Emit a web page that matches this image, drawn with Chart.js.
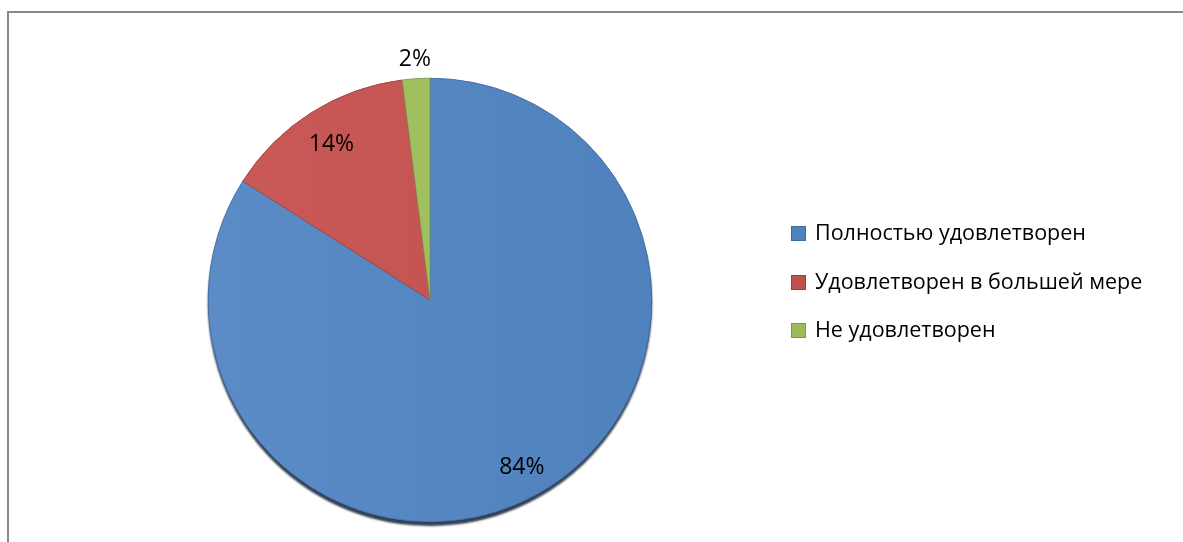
<!DOCTYPE html>
<html>
<head>
<meta charset="utf-8">
<script src="https://cdn.jsdelivr.net/npm/chart.js@4/dist/chart.umd.min.js"></script>
<style>
  body { margin: 0; background: #fff; width: 1183px; height: 542px; overflow: hidden; position: relative; font-family: "Open Sans", sans-serif; }
  #frame { position: absolute; left: 7px; top: 11px; width: 1200px; height: 560px; border-left: 2px solid #888; border-top: 2px solid #888; }
  #pieChart { position: absolute; left: 0; top: 0; }
  #legend { position: absolute; left: 791px; top: 217px; }
  .item { height: 48.5px; display: flex; align-items: flex-start; font-size: 21.5px; color: #000; white-space: nowrap; }
  .box { width: 13px; height: 13px; margin-top: 9px; margin-right: 9px; border: 1px solid; flex: none; }
</style>
</head>
<body>
<div id="frame"></div>
<canvas id="pieChart" width="1183" height="542"></canvas>
<div id="legend"></div>
<script>
const categories = ['Полностью удовлетворен', 'Удовлетворен в большей мере', 'Не удовлетворен'];
const values = [84, 14, 2];
const colors = ['#4F81BD', '#C0504D', '#9BBB59'];
const lightColors = ['#5B8CC8', '#C95A57', '#A3C465'];
const borders = ['#3F6A9E', '#9E3D3A', '#7A9A44'];

// where each percent label sits, as a fraction of the radius
const labelRadius = [0.86, 0.83, 1.085];

// soft shadow only under the outer rim
const pieShadow = {
  id: 'pieShadow',
  beforeDatasetsDraw(chart) {
    const c = chart.ctx;
    c.save();
    c.shadowColor = 'rgba(15,30,55,0.85)';
    c.shadowBlur = 2;
    c.shadowOffsetY = 4;
    chart.getDatasetMeta(0).data.forEach(arc => arc.draw(c));
    c.restore();
  }
};

const pctLabels = {
  id: 'pctLabels',
  afterDatasetsDraw(chart) {
    const c = chart.ctx;
    const total = values.reduce((a, b) => a + b, 0);
    c.save();
    c.font = '23px "Open Sans", sans-serif';
    c.fillStyle = '#000';
    c.textAlign = 'center';
    c.textBaseline = 'middle';
    chart.getDatasetMeta(0).data.forEach((arc, i) => {
      const mid = (arc.startAngle + arc.endAngle) / 2;
      const r = arc.outerRadius * labelRadius[i];
      const x = arc.x + Math.cos(mid) * r;
      const y = arc.y + Math.sin(mid) * r;
      c.fillText(Math.round(values[i] / total * 100) + '%', x, y);
    });
    c.restore();
  }
};

const ctx = document.getElementById('pieChart');

const dataset = {
  labels: categories,
  datasets: [{
    data: values,
    backgroundColor: (context) => {
      const area = context.chart.chartArea;
      if (!area) return colors[context.dataIndex];
      const g = context.chart.ctx.createLinearGradient(area.left, 0, area.right, 0);
      g.addColorStop(0, lightColors[context.dataIndex]);
      g.addColorStop(1, colors[context.dataIndex]);
      return g;
    },
    borderColor: borders,
    borderWidth: 0.6
  }]
};

const config = {
  type: 'pie',
  data: dataset,
  options: {
    responsive: false,
    animation: false,
    layout: { padding: { top: 78, bottom: 20, left: 208, right: 531 } },
    plugins: {
      legend: { display: false },
      tooltip: { enabled: false }
    }
  },
  plugins: [pieShadow, pctLabels]
};

const chart = new Chart(ctx, config);

// legend
const legendHTML = document.getElementById('legend');
categories.forEach((name, i) => {
  const row = document.createElement('div');
  row.className = 'item';
  const box = document.createElement('span');
  box.className = 'box';
  box.style.background = colors[i];
  box.style.borderColor = borders[i];
  const txt = document.createElement('span');
  txt.textContent = name;
  row.appendChild(box);
  row.appendChild(txt);
  legendHTML.appendChild(row);
});
</script>
</body>
</html>
